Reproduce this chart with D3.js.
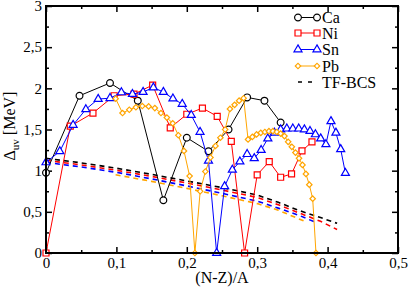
<!DOCTYPE html>
<html><head><meta charset="utf-8">
<script src="https://cdn.jsdelivr.net/npm/d3@7"></script>
<style>
body{margin:0;background:#fff}
svg{display:block}
svg text{font-family:"Liberation Serif","Tinos","DejaVu Serif","Noto Serif","Times New Roman",serif !important;fill:#000}
</style>
</head><body><svg id="c" width="409" height="289"></svg>
<script>
// ---------- data ----------
const caX=[0,0.0476,0.0909,0.1304,0.1667,0.2,0.2308,0.2593,0.2857,0.3103,0.3333];
const caY=[0.975,1.91,2.065,1.85,0.64,1.40,1.235,1.50,1.89,1.85,1.585];

const niX=[0,0.0345,0.0667,0.0968,0.125,0.1515,0.1765,0.2,0.2222,0.2432,0.2632,0.2821,0.3,0.3171,0.3333,0.3488,0.3636,0.3778];
const niY=[0,1.54,1.70,1.91,1.93,2.04,1.52,1.685,1.76,1.66,1.355,0,0.95,1.11,0.92,0.96,1.24,1.35];

const snX=[0,0.0196,0.0385,0.0566,0.0741,0.0909,0.1071,0.1228,0.1379,0.1525,0.1667,0.1803,0.1935,0.2063,0.2188,0.2308,0.2424,0.2537,0.2647,0.2754,0.2857,0.2958,0.3056,0.3151,0.3243,0.3333,0.3421,0.3506,0.359,0.367,0.375,0.3827,0.3902,0.3976,0.4048,0.4118,0.4186,0.4253];
const snY=[1.10,1.235,1.555,1.745,1.87,1.88,1.95,1.93,1.955,2.01,1.955,1.875,1.81,1.675,1.47,1.12,0,0.81,1.01,1.11,1.20,1.15,1.25,1.39,1.46,1.50,1.51,1.51,1.51,1.50,1.48,1.44,1.39,1.32,1.60,1.46,1.26,0.97];

const pbX=[0.0989,0.1087,0.1183,0.1277,0.1368,0.1458,0.1546,0.1633,0.1717,0.18,0.188,0.196,0.204,0.2115,0.219,0.2264,0.2336,0.2407,0.2477,0.2545,0.2613,0.2679,0.2743,0.2807,0.287,0.2931,0.2991,0.3051,0.3109,0.3167,0.3223,0.3279,0.3333,0.3387,0.344,0.3492,0.3543,0.3594,0.3643,0.3692,0.374,0.3788,0.3835];
const pbY=[1.875,1.70,1.74,1.77,1.785,1.78,1.76,1.70,1.645,1.575,1.43,1.24,0.935,0,0.75,0.99,1.16,1.30,1.40,1.50,1.75,1.80,1.85,1.88,1.38,1.41,1.44,1.46,1.47,1.48,1.48,1.47,1.45,1.42,1.35,1.29,1.22,1.15,1.07,0.96,0.83,0.66,0];

// TF-BCS curves
const tfCaX=[0,0.05,0.1,0.15,0.2,0.25,0.3,0.33,0.36,0.39,0.4135];
const tfCaY=[1.15,1.095,1.03,0.955,0.875,0.795,0.705,0.615,0.515,0.43,0.36];
const tfNiX=[0,0.05,0.1,0.15,0.2,0.25,0.3,0.33,0.36,0.39,0.4135];
const tfNiY=[1.125,1.07,1.005,0.93,0.85,0.765,0.675,0.585,0.485,0.385,0.285];
const tfSnX=[0,0.05,0.1,0.15,0.2,0.25,0.3,0.33,0.36,0.385];
const tfSnY=[1.10,1.045,0.98,0.90,0.815,0.725,0.63,0.545,0.455,0.365];
const tfPbX=[0.0989,0.15,0.2,0.25,0.3,0.33,0.366];
const tfPbY=[0.95,0.87,0.785,0.695,0.60,0.52,0.39];

const xTicks=[0,0.1,0.2,0.3,0.4,0.5];
const xTickLabels=["0","0,1","0,2","0,3","0,4","0,5"];
const xMinor=[0.05,0.15,0.25,0.35,0.45];
const yTicks=[0,0.5,1,1.5,2,2.5,3];
const yTickLabels=["0","0,5","1","1,5","2","2,5","3"];
const yMinor=[0.25,0.75,1.25,1.75,2.25,2.75];

const seriesNames=["Ca","Ni","Sn","Pb"];
const seriesColors=["#000000","#ff0000","#0000ff","#ffa500"];

// ---------- drawing ----------
const L=46,R=398,T=6,B=253;
const FONT='"Liberation Serif","Tinos","DejaVu Serif","Noto Serif","Times New Roman",serif';
const svg=d3.select("#c");
const x=d3.scaleLinear().domain([0,0.5]).range([L,R]);
const y=d3.scaleLinear().domain([0,3]).range([B,T]);

function styleAxis(g){
  g.attr("font-family",FONT);
  g.select(".domain").remove();
  g.selectAll(".tick line").attr("stroke","#000").attr("stroke-width",1.5);
}

svg.append("g").attr("transform",`translate(0,${B})`)
  .call(d3.axisBottom(x).tickValues(xTicks).tickSize(-6).tickPadding(4).tickFormat((d,i)=>xTickLabels[i]))
  .call(styleAxis).call(g=>g.selectAll("text").attr("font-size",15));
svg.append("g").attr("transform",`translate(0,${B})`)
  .call(d3.axisBottom(x).tickValues(xMinor).tickSize(-3).tickFormat("")).call(styleAxis);
svg.append("g").attr("transform",`translate(0,${T})`)
  .call(d3.axisTop(x).tickValues(xTicks).tickSize(-6).tickFormat("")).call(styleAxis);
svg.append("g").attr("transform",`translate(0,${T})`)
  .call(d3.axisTop(x).tickValues(xMinor).tickSize(-3).tickFormat("")).call(styleAxis);

svg.append("g").attr("transform",`translate(${L},0)`)
  .call(d3.axisLeft(y).tickValues(yTicks).tickSize(-6).tickPadding(4).tickFormat((d,i)=>yTickLabels[i]))
  .call(styleAxis).call(g=>g.selectAll("text").attr("font-size",15));
svg.append("g").attr("transform",`translate(${L},0)`)
  .call(d3.axisLeft(y).tickValues(yMinor).tickSize(-3).tickFormat("")).call(styleAxis);
svg.append("g").attr("transform",`translate(${R},0)`)
  .call(d3.axisRight(y).tickValues(yTicks).tickSize(-6).tickFormat("")).call(styleAxis);
svg.append("g").attr("transform",`translate(${R},0)`)
  .call(d3.axisRight(y).tickValues(yMinor).tickSize(-3).tickFormat("")).call(styleAxis);

// TF-BCS dashed
const line=d3.line().x(d=>x(d[0])).y(d=>y(d[1]));
const tfs=[[tfCaX,tfCaY],[tfNiX,tfNiY],[tfSnX,tfSnY],[tfPbX,tfPbY]];
tfs.forEach((s,i)=>{
  svg.append("path").datum(s[0].map((v,j)=>[v,s[1][j]]))
    .attr("d",line).attr("fill","none").attr("stroke",seriesColors[i])
    .attr("stroke-width",1.6).attr("stroke-dasharray","5,4");
});

// symbols
const symTypes=[d3.symbolCircle,d3.symbolSquare,d3.symbolTriangle,d3.symbolSquare];
const symSizes=[36,36,28,15];
const symRot=[0,0,0,45];
function drawSym(g,cx,cy,i){
  g.append("path").attr("d",d3.symbol().type(symTypes[i]).size(symSizes[i])())
   .attr("transform",`translate(${cx},${cy}) rotate(${symRot[i]})`)
   .attr("fill","#fff").attr("stroke",seriesColors[i]).attr("stroke-width",1.2);
}
const series=[[caX,caY],[niX,niY],[snX,snY],[pbX,pbY]];
series.forEach((s,i)=>{
  const pts=s[0].map((v,j)=>[v,s[1][j]]);
  const g=svg.append("g");
  g.append("path").datum(pts).attr("d",line).attr("fill","none")
   .attr("stroke",seriesColors[i]).attr("stroke-width",1);
  pts.forEach(p=>drawSym(g,x(p[0]),y(p[1]),i));
});

// frame
svg.append("rect").attr("x",L).attr("y",T).attr("width",R-L).attr("height",B-T)
  .attr("fill","none").attr("stroke","#000").attr("stroke-width",2);

// legend
const lg=svg.append("g").attr("font-family",FONT);
const rows=[17.5,33,49.5,66,82];
seriesNames.forEach((n,i)=>{
  const ry=rows[i];
  lg.append("line").attr("x1",298).attr("x2",317).attr("y1",ry).attr("y2",ry)
    .attr("stroke",seriesColors[i]).attr("stroke-width",1);
  drawSym(lg,298,ry,i); drawSym(lg,317,ry,i);
  lg.append("text").attr("x",322).attr("y",ry).attr("dy","0.35em").attr("font-size",16).text(n);
});
lg.append("line").attr("x1",298).attr("x2",314).attr("y1",rows[4]).attr("y2",rows[4])
  .attr("stroke","#000").attr("stroke-width",1.5).attr("stroke-dasharray","4,6");
lg.append("text").attr("x",322).attr("y",rows[4]).attr("dy","0.35em").attr("font-size",16).text("TF-BCS");

// axis titles
svg.append("text").attr("x",(L+R)/2).attr("y",283).attr("text-anchor","middle")
  .attr("font-family",FONT).attr("font-size",16).text("(N-Z)/A");
const yt=svg.append("text").attr("transform","translate(15,126) rotate(-90)")
  .attr("text-anchor","middle").attr("font-family",FONT).attr("font-size",16);
yt.append("tspan").text("Δ");
yt.append("tspan").attr("font-size",11).attr("dy",4).text("uv");
yt.append("tspan").attr("dy",-4).text(" [MeV]");
</script>
</body></html>
